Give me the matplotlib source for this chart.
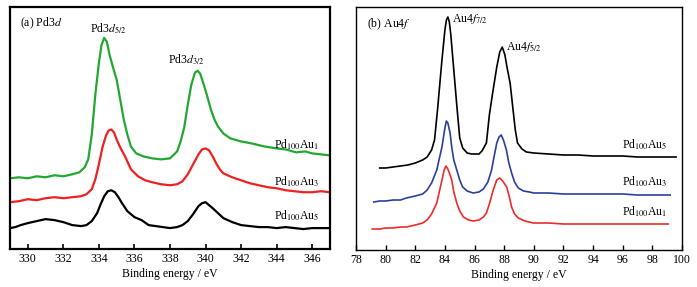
import matplotlib.pyplot as plt

plt.rcParams['font.family'] = 'Liberation Serif'
plt.rcParams['mathtext.fontset'] = 'stix'

# Pd3d espectros (energía en eV, intensidad en unidades arbitrarias)
pd_au1_x = [329.0, 329.5, 330.0, 330.5, 331.0, 331.5, 332.0, 332.5, 332.9, 333.2, 333.4, 333.6, 333.8,
            334.0, 334.15, 334.3, 334.45, 334.6, 334.8, 335.0, 335.2, 335.4, 335.6, 335.8, 336.1, 336.5,
            337.0, 337.5, 338.0, 338.4, 338.6, 338.8, 339.0, 339.2, 339.4, 339.55, 339.7, 339.9, 340.1,
            340.3, 340.5, 340.7, 341.0, 341.4, 342.0, 342.6, 343.3, 344.0, 344.5, 345.1, 345.6, 346.0,
            346.5, 347.0]
pd_au1_y = [71, 72, 71, 73, 72, 74, 73, 75, 77, 82, 90, 115, 155,
            187, 205, 212, 208, 195, 182, 170, 150, 130, 115, 103, 96, 93,
            91, 90, 91, 98, 108, 122, 145, 165, 177, 179, 176, 165, 153,
            140, 130, 123, 116, 111, 108, 106, 103, 101, 100, 97, 98, 96,
            95, 94]

pd_au3_x = [329.0, 329.5, 330.0, 330.5, 331.0, 331.5, 332.0, 332.5, 333.0, 333.3, 333.6, 333.8, 334.0,
            334.2, 334.4, 334.55, 334.7, 334.85, 335.0, 335.2, 335.5, 335.8, 336.2, 336.6, 337.0, 337.5,
            338.0, 338.4, 338.7, 339.0, 339.3, 339.6, 339.8, 340.0, 340.2, 340.4, 340.6, 340.8, 341.0,
            341.5, 342.0, 342.5, 343.0, 343.5, 344.0, 344.5, 345.0, 345.5, 346.0, 346.5, 347.0]
pd_au3_y = [47, 48, 50, 49, 51, 52, 51, 52, 53, 55, 60, 70, 85,
            102, 114, 119, 120, 117, 110, 102, 92, 80, 73, 69, 67, 65,
            64, 65, 68, 75, 85, 95, 100, 101, 99, 93, 86, 80, 76,
            72, 69, 66, 64, 62, 61, 59, 58, 57, 57, 58, 57]

pd_au5_x = [329.0, 329.3, 329.6, 330.0, 330.5, 331.0, 331.5, 332.0, 332.5, 333.0, 333.3, 333.6, 333.9,
            334.1, 334.3, 334.5, 334.7, 334.9, 335.1, 335.3, 335.6, 336.0, 336.4, 336.8, 337.2, 337.6,
            338.0, 338.4, 338.7, 339.0, 339.3, 339.6, 339.8, 340.0, 340.2, 340.4, 340.7, 341.0, 341.5,
            342.0, 342.5, 343.0, 343.5, 344.0, 344.5, 345.0, 345.5, 346.0, 346.5, 347.0]
pd_au5_y = [21, 22, 24, 26, 28, 30, 29, 27, 24, 23, 24, 28, 36,
            45, 53, 58, 59, 57, 52, 46, 38, 32, 29, 24, 23, 22,
            21, 22, 24, 28, 35, 43, 46, 47, 44, 41, 36, 31, 27,
            24, 23, 22, 22, 21, 22, 21, 20, 21, 21, 21]

# Au4f espectros
au5_x = [79.6, 80.0, 80.5, 81.0, 81.5, 82.0, 82.5, 82.8, 83.1, 83.3, 83.5, 83.8, 84.0, 84.1, 84.2,
         84.3, 84.4, 84.6, 84.8, 85.0, 85.2, 85.5, 85.8, 86.0, 86.3, 86.5, 86.8, 87.0, 87.2, 87.5,
         87.7, 87.87, 88.05, 88.2, 88.4, 88.6, 88.75, 88.9, 89.2, 89.5, 90.0, 91.0, 92.0, 93.0,
         94.0, 95.0, 96.0, 97.0, 98.0, 99.0, 99.6]
au5_y = [82, 82, 83, 84, 85, 87, 90, 93, 100, 110, 140, 190, 220, 230, 233,
         228, 215, 180, 145, 112, 102, 97, 96, 96, 96, 99, 107, 135, 155, 183,
         198, 203, 195, 182, 167, 140, 120, 107, 101, 98, 97, 96, 95, 95,
         94, 94, 94, 93, 93, 93, 93]

au3_x = [79.2, 79.6, 80.0, 80.5, 81.0, 81.4, 82.0, 82.5, 82.8, 83.1, 83.45, 83.8, 84.0, 84.1, 84.2,
         84.35, 84.46, 84.6, 84.8, 85.0, 85.2, 85.5, 85.9, 86.3, 86.6, 86.9, 87.15, 87.3, 87.5,
         87.65, 87.8, 87.95, 88.15, 88.3, 88.5, 88.7, 88.95, 89.3, 89.7, 90.0, 91.0, 92.0, 93.0,
         94.0, 95.0, 96.0, 97.0, 98.0, 99.2]
au3_y = [48, 49, 49, 50, 50, 52, 54, 56, 60, 67, 80, 103, 122, 129, 127,
         117, 103, 90, 80, 70, 63, 59, 57, 58, 61, 68, 80, 92, 107,
         113, 115, 110, 100, 88, 77, 68, 62, 59, 58, 57, 57, 56, 56,
         56, 56, 56, 55, 55, 55]

au1_x = [79.1, 79.6, 80.0, 80.5, 81.0, 81.4, 82.0, 82.5, 82.8, 83.1, 83.45, 83.65, 83.8, 83.95, 84.07,
         84.2, 84.35, 84.46, 84.6, 84.8, 85.0, 85.25, 85.6, 85.9, 86.3, 86.6, 86.8, 87.0, 87.26,
         87.5, 87.7, 87.9, 88.17, 88.35, 88.5, 88.7, 88.95, 89.4, 89.97, 91.0, 92.0, 93.0, 94.0,
         95.0, 96.0, 97.0, 98.0, 99.07]
au1_y = [21, 21, 22, 22, 23, 23, 25, 27, 30, 36, 47, 60, 70, 80, 84,
         81, 75, 70, 58, 47, 39, 33, 30, 29, 30, 33, 37, 46, 60,
         70, 72, 69, 63, 53, 43, 36, 32, 29, 27, 27, 26, 26, 26,
         26, 26, 26, 26, 26]

fig = plt.figure(figsize=(6.97, 2.87), dpi=100)
ax1 = fig.add_axes([10 / 697, 38 / 287, 320 / 697, 242 / 287])
ax2 = fig.add_axes([356 / 697, 37 / 287, 326 / 697, 243 / 287])

# Panel (a)
ax1.plot(pd_au1_x, pd_au1_y, color='#21a831', lw=1.6)
ax1.plot(pd_au3_x, pd_au3_y, color='#ee2020', lw=1.6)
ax1.plot(pd_au5_x, pd_au5_y, color='black', lw=1.6)
ax1.set_xlim(329, 347)
ax1.set_ylim(0, 243)
ax1.set_xticks(range(330, 347, 2))
ax1.set_yticks([])
ax1.set_xlabel('Binding energy / eV', fontsize=8.5, labelpad=2)
for s in ax1.spines.values():
    s.set_linewidth(1.6)
ax1.tick_params(axis='x', direction='in', length=3.5, width=1.2, labelsize=8.5, pad=3)

ax1.text(329.55, 227, '(a) Pd3$\\mathit{d}$', fontsize=8.5, va='center')
ax1.text(334.55, 221, 'Pd3$\\mathit{d}_{5/2}$', fontsize=8.5, va='center', ha='center')
ax1.text(338.9, 190, 'Pd3$\\mathit{d}_{3/2}$', fontsize=8.5, va='center', ha='center')
ax1.text(343.85, 105, 'Pd$_{100}$Au$_1$', fontsize=8.5, va='center')
ax1.text(343.85, 68, 'Pd$_{100}$Au$_3$', fontsize=8.5, va='center')
ax1.text(343.85, 33, 'Pd$_{100}$Au$_5$', fontsize=8.5, va='center')

# Panel (b)
ax2.plot(au5_x, au5_y, color='black', lw=1.2)
ax2.plot(au3_x, au3_y, color='#2c3f9e', lw=1.2)
ax2.plot(au1_x, au1_y, color='#ee2a2a', lw=1.2)
ax2.set_xlim(78, 100)
ax2.set_ylim(0, 243)
ax2.set_xticks(range(78, 101, 2))
ax2.set_yticks([])
ax2.set_xlabel('Binding energy / eV', fontsize=8.5, labelpad=2)
for s in ax2.spines.values():
    s.set_linewidth(1.0)
ax2.tick_params(axis='x', direction='in', length=3.5, width=1.0, labelsize=8.5, pad=3)

ax2.text(78.75, 226, '(b) Au4$\\mathit{f}$', fontsize=8.5, va='center')
ax2.text(84.45, 231, 'Au4$\\mathit{f}_{7/2}$', fontsize=8.5, va='center')
ax2.text(88.15, 203, 'Au4$\\mathit{f}_{5/2}$', fontsize=8.5, va='center')
ax2.text(95.95, 105, 'Pd$_{100}$Au$_5$', fontsize=8.5, va='center')
ax2.text(95.95, 68, 'Pd$_{100}$Au$_3$', fontsize=8.5, va='center')
ax2.text(95.95, 38, 'Pd$_{100}$Au$_1$', fontsize=8.5, va='center')

plt.savefig('out.png', dpi=100)
